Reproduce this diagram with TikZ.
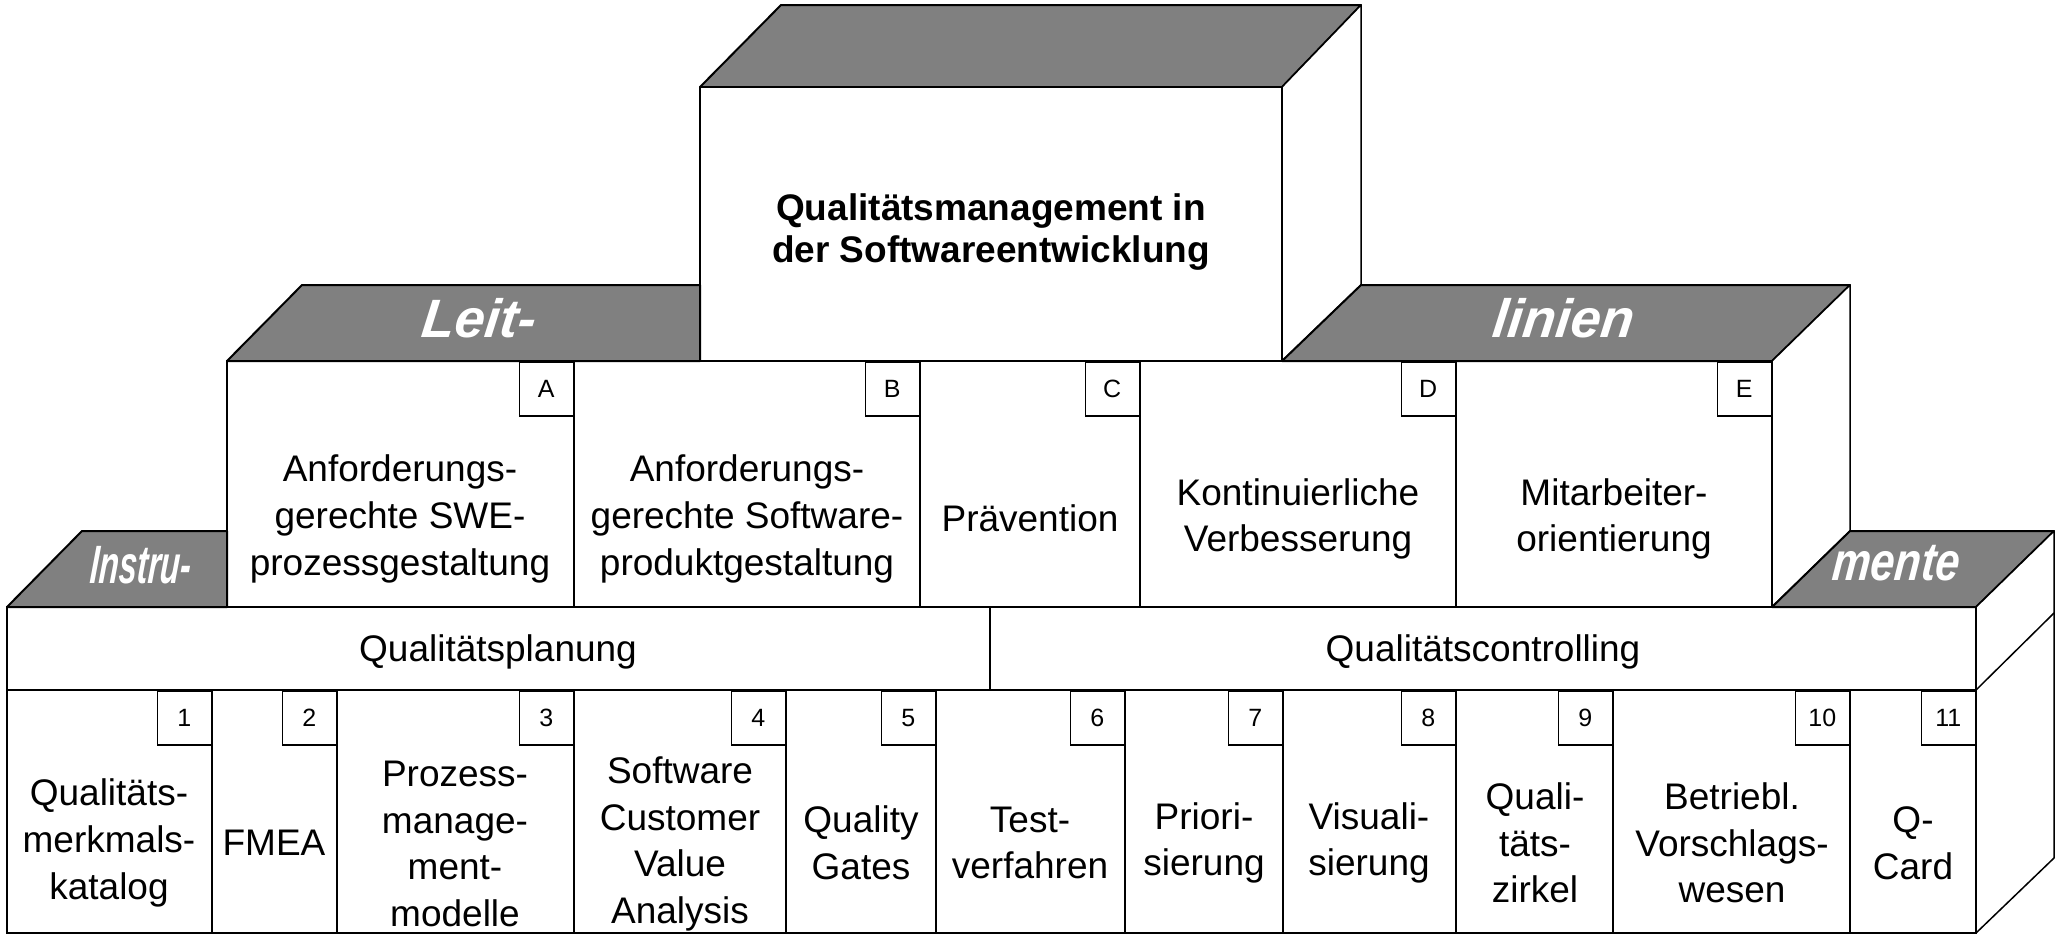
\documentclass[tikz,border=0pt]{standalone}
\usepackage{fontspec}
\setmainfont{Liberation Sans}
\newfontfamily\rooffont[FakeSlant=0.12]{Liberation Sans Bold Italic}
\usepackage{tikz}
\definecolor{roofgray}{RGB}{128,128,128}

\begin{document}
\begin{tikzpicture}[x=0.5pt,y=-0.5pt,
  face/.style={draw,fill=roofgray,line width=1pt,line join=round},
  wall/.style={draw,fill=white,line width=0.75pt,line join=round},
  cell/.style={draw,line width=0.75pt},
  body/.style={align=center,inner sep=0pt,font=\fontsize{18.5}{23.3}\selectfont},
  tag/.style={draw,fill=white,line width=0.75pt,anchor=north east,minimum size=27pt,
    inner sep=0pt,font=\fontsize{12.5}{15}\selectfont},
  roof/.style={text=white,inner sep=0pt,font=\fontsize{27}{30}\selectfont\rooffont}]

  \useasboundingbox (0,0) rectangle (2059,937);

  % top block
  \draw[face] (700,87) -- (781,5) -- (1361,5) -- (1282,87) -- cycle;
  \draw[wall] (1282,87) -- (1361,5) -- (1361,285) -- (1282,361) -- cycle;
  \draw[wall] (700,87) rectangle (1282,361);
  \node[body,font=\fontsize{18.5}{21.3}\selectfont\bfseries] (qm) at (991,232)
    {Qualitätsmanagement in\\der Softwareentwicklung};

  % middle block: Leitlinien
  \draw[face] (227,361) -- (302,285) -- (700,285) -- (700,361) -- cycle;
  \draw[face] (1282,361) -- (1361,285) -- (1850,285) -- (1772,361) -- cycle;
  \draw[wall] (1772,361) -- (1850,285) -- (1850,531) -- (1772,607) -- cycle;
  \node[roof] (leit) at (477,318) {Leit-};
  \node[roof] (linien) at (1562,318) {linien};

  \draw[cell] (227,361) rectangle (574,607);
  \draw[cell] (574,361) rectangle (920,607);
  \draw[cell] (920,361) rectangle (1140,607);
  \draw[cell] (1140,361) rectangle (1456,607);
  \draw[cell] (1456,361) rectangle (1772,607);
  \node[tag] (tagA) at (574,361) {A};
  \node[tag] (tagB) at (920,361) {B};
  \node[tag] (tagC) at (1140,361) {C};
  \node[tag] (tagD) at (1456,361) {D};
  \node[tag] (tagE) at (1772,361) {E};
  \node[body] (swe) at (400,519) {Anforderungs-\\gerechte SWE-\\prozessgestaltung};
  \node[body] (produkt) at (747,519) {Anforderungs-\\gerechte Software-\\produktgestaltung};
  \node[body] (praevention) at (1030,518) {Prävention};
  \node[body] (kvp) at (1298,519) {Kontinuierliche\\Verbesserung};
  \node[body] (mitarbeiter) at (1614,519) {Mitarbeiter-\\orientierung};

  % lower block: Instrumente
  \draw[face] (7,607) -- (82,531) -- (227,531) -- (227,607) -- cycle;
  \draw[face] (1772,607) -- (1850,531) -- (2054,531) -- (1976,607) -- cycle;
  \draw[wall] (1976,607) -- (2054,531) -- (2054,858) -- (1976,933) -- cycle;
  \draw[cell] (1976,690) -- (2054,613);
  \node[roof] (instru) at (140,565) {\scalebox{0.6}[1]{Instru-}};
  \node[roof] (mente) at (1895,563) {\scalebox{0.8}[1]{mente}};

  \draw[cell] (7,607) rectangle (990,690);
  \draw[cell] (990,607) rectangle (1976,690);
  \node[body] (planung) at (498,652) {Qualitätsplanung};
  \node[body] (controlling) at (1483,652) {Qualitätscontrolling};

  \draw[cell] (7,690) rectangle (212,933);
  \draw[cell] (212,690) rectangle (337,933);
  \draw[cell] (337,690) rectangle (574,933);
  \draw[cell] (574,690) rectangle (786,933);
  \draw[cell] (786,690) rectangle (936,933);
  \draw[cell] (936,690) rectangle (1125,933);
  \draw[cell] (1125,690) rectangle (1283,933);
  \draw[cell] (1283,690) rectangle (1456,933);
  \draw[cell] (1456,690) rectangle (1613,933);
  \draw[cell] (1613,690) rectangle (1850,933);
  \draw[cell] (1850,690) rectangle (1976,933);
  \node[tag] (tag1) at (212,690) {1};
  \node[tag] (tag2) at (337,690) {2};
  \node[tag] (tag3) at (574,690) {3};
  \node[tag] (tag4) at (786,690) {4};
  \node[tag] (tag5) at (936,690) {5};
  \node[tag] (tag6) at (1125,690) {6};
  \node[tag] (tag7) at (1283,690) {7};
  \node[tag] (tag8) at (1456,690) {8};
  \node[tag] (tag9) at (1613,690) {9};
  \node[tag] (tag10) at (1850,690) {10};
  \node[tag] (tag11) at (1976,690) {11};
  \node[body] (katalog) at (109,843) {Qualitäts-\\merkmals-\\katalog};
  \node[body] (fmea) at (274,843) {FMEA};
  \node[body] (modelle) at (455,844) {Prozess-\\manage-\\ment-\\modelle};
  \node[body] (scva) at (680,844) {Software\\Customer\\Value\\Analysis};
  \node[body] (gates) at (861,843) {Quality\\Gates};
  \node[body] (test) at (1030,843) {Test-\\verfahren};
  \node[body] (prio) at (1204,843) {Priori-\\sierung};
  \node[body] (visual) at (1369,843) {Visuali-\\sierung};
  \node[body] (zirkel) at (1535,843) {Quali-\\täts-\\zirkel};
  \node[body] (bvw) at (1732,843) {Betriebl.\\Vorschlags-\\wesen};
  \node[body] (qcard) at (1913,843) {Q-\\Card};
\end{tikzpicture}
\end{document}
